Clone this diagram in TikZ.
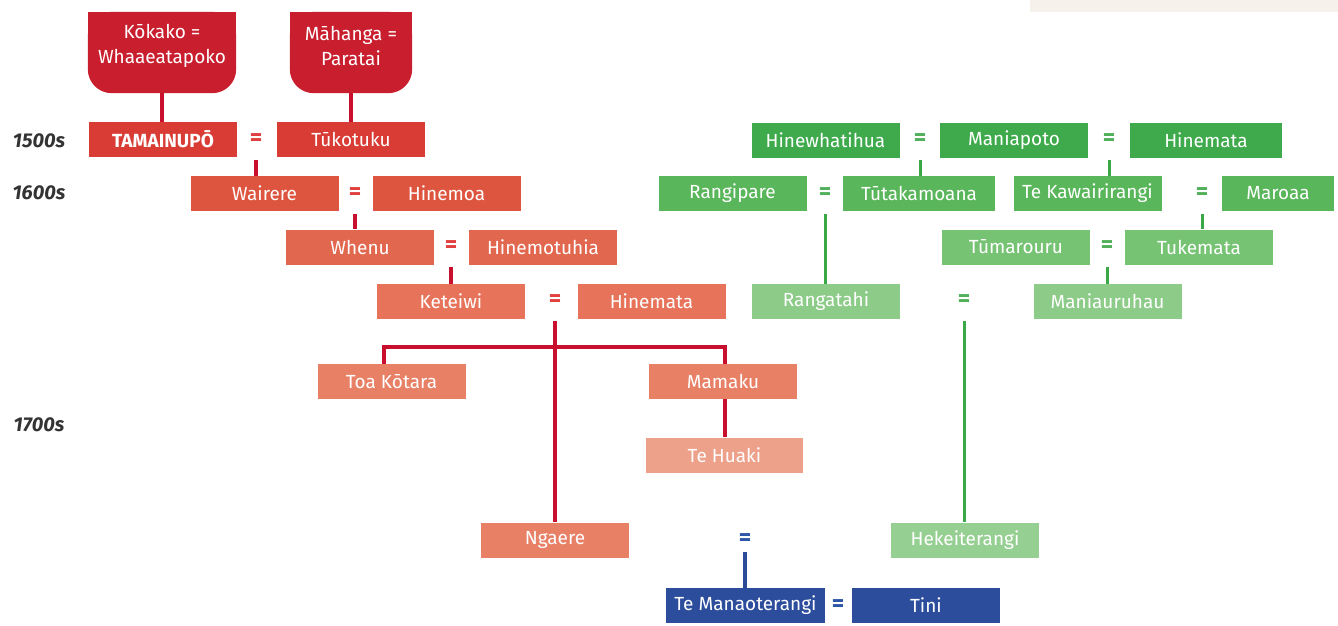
\documentclass[tikz,border=0pt]{standalone}
\usepackage{fontspec}
\setmainfont{Fira Sans}
\usetikzlibrary{backgrounds}
\definecolor{r0}{HTML}{C81E2D}
\definecolor{r1}{HTML}{D83C35}
\definecolor{r2}{HTML}{DE553F}
\definecolor{r3}{HTML}{E2674F}
\definecolor{r4}{HTML}{E6735A}
\definecolor{r5}{HTML}{E88066}
\definecolor{r6}{HTML}{EDA08A}
\definecolor{g1}{HTML}{3EAA4C}
\definecolor{g2}{HTML}{59B65A}
\definecolor{g3}{HTML}{76C374}
\definecolor{g4}{HTML}{8CCB88}
\definecolor{g5}{HTML}{96CF92}
\definecolor{bl}{HTML}{2C4C9C}
\definecolor{rl}{HTML}{C8102E}
\definecolor{gl}{HTML}{3AA846}
\definecolor{bll}{HTML}{2D4A98}
\definecolor{req}{HTML}{E0413F}
\definecolor{geq}{HTML}{52B05A}
\definecolor{beq}{HTML}{2F57A8}
\definecolor{yr}{HTML}{333333}
\definecolor{band}{HTML}{F6F1EA}
\tikzset{
  person/.style={rectangle, inner sep=0pt, minimum width=148pt, minimum height=35pt, text=white, font=\fontsize{19}{21}\selectfont},
  capbox/.style={rectangle, inner sep=0pt, minimum width=148pt, minimum height=94pt, text=white, align=center, font=\fontsize{19}{25}\selectfont},
  eqsign/.style={inner sep=0pt, minimum height=40pt, font=\fontsize{24}{24}\selectfont\bfseries},
  eqr/.style={eqsign, text=req},
  eqg/.style={eqsign, text=geq},
  eqb/.style={eqsign, text=beq},
  year/.style={text=yr, font=\fontsize{20}{22}\selectfont\bfseries\itshape},
  rline/.style={draw=rl, line width=3.5pt},
  gline/.style={draw=gl, line width=3pt},
  bline/.style={draw=bll, line width=3.5pt},
}
\begin{document}
\begin{tikzpicture}[x=1pt,y=-1pt]
\useasboundingbox (0,0) rectangle (1338,625);
\fill[band] (1030,0) rectangle (1338,12);
% years
\node[year] (y15) at (39,141) {1500s};
\node[year] (y16) at (39,193) {1600s};
\node[year] (y17) at (39,425) {1700s};
% caps
\node[capbox] (kok) at (162,46) {Kōkako =\\Whaaeatapoko};
\node[capbox, minimum width=122pt] (mah) at (351,46) {Māhanga =\\Paratai};
\begin{scope}[on background layer]
  \fill[r0, rounded corners=24pt] (kok.south west) rectangle ([yshift=-13pt]kok.north east);
  \fill[r0] ([yshift=-13pt]kok.north west) rectangle (kok.east);
  \fill[r0, rounded corners=24pt] (mah.south west) rectangle ([yshift=-13pt]mah.north east);
  \fill[r0] ([yshift=-13pt]mah.north west) rectangle (mah.east);
\end{scope}
% red line
\node[person, fill=r1, font=\fontsize{19}{21}\selectfont\bfseries] (tam) at (163,139.5) {TAMAINUPŌ};
\node[eqr] (e1) at (256,140) {=};
\node[person, fill=r1] (tuk) at (351,139.5) {Tūkotuku};
\node[person, fill=r2] (wai) at (264.5,193.5) {Wairere};
\node[eqr] (e2) at (355,194) {=};
\node[person, fill=r2] (hmo) at (446.5,193.5) {Hinemoa};
\node[person, fill=r3] (whe) at (360,247) {Whenu};
\node[eqr] (e3) at (451,247) {=};
\node[person, fill=r3] (hmt) at (543,247) {Hinemotuhia};
\node[person, fill=r4] (ket) at (451,301.5) {Keteiwi};
\node[eqr] (e4) at (555,301) {=};
\node[person, fill=r4] (hnr) at (651.5,301.5) {Hinemata};
\node[person, fill=r5] (toa) at (391.5,381.5) {Toa Kōtara};
\node[person, fill=r5] (mam) at (723,381.5) {Mamaku};
\node[person, fill=r6, minimum width=157pt] (thu) at (724.5,455) {Te Huaki};
\node[person, fill=r5] (nga) at (555,540) {Ngaere};
% blue
\node[eqb] (e5) at (745,540) {=};
\node[person, fill=bl, minimum width=159pt] (tma) at (745.5,605.5) {Te Manaoterangi};
\node[eqb] (e6) at (838,606) {=};
\node[person, fill=bl] (tin) at (926,605.5) {Tini};
% green
\node[person, fill=g1] (hwh) at (825.5,140) {Hinewhatihua};
\node[eqg] (e7) at (920,140) {=};
\node[person, fill=g1] (man) at (1014,140) {Maniapoto};
\node[eqg] (e8) at (1109,140) {=};
\node[person, fill=g1, minimum width=152pt] (hng) at (1206,140) {Hinemata};
\node[person, fill=g2] (rgp) at (732.5,193.5) {Rangipare};
\node[eqg] (e9) at (825,194) {=};
\node[person, fill=g2, minimum width=152pt] (tut) at (919,193.5) {Tūtakamoana};
\node[person, fill=g2] (tek) at (1087.5,193.5) {Te Kawairirangi};
\node[eqg] (e10) at (1202,194) {=};
\node[person, fill=g2, minimum width=112pt] (mar) at (1278,193.5) {Maroaa};
\node[person, fill=g3] (tum) at (1016,247) {Tūmarouru};
\node[eqg] (e11) at (1107,247) {=};
\node[person, fill=g3] (tkm) at (1199,247) {Tukemata};
\node[person, fill=g4] (rgt) at (826,301.5) {Rangatahi};
\node[eqg] (e12) at (964,301) {=};
\node[person, fill=g4] (mnu) at (1107.5,301.5) {Maniauruhau};
\node[person, fill=g5] (hek) at (965,540) {Hekeiterangi};
% connectors
\coordinate (barL) at (384,347);
\coordinate (barR) at (725,347);
\begin{scope}[on background layer]
\draw[rline] (kok.south) -- (kok.south |- tam.north);
\draw[rline] (mah.south) -- (mah.south |- tuk.north);
\draw[rline] (e1.south) -- (e1.south |- wai.north);
\draw[rline] (e2.south) -- (e2.south |- whe.north);
\draw[rline] (e3.south) -- (e3.south |- ket.north);
\draw[rline] (e4.south) -- (e4.south |- nga.north);
\draw[rline] (barL |- toa.north) -- (barL) -- (barR) -- (barR |- mam.north);
\draw[rline] (barR |- mam.south) -- (barR |- thu.north);
\draw[bline] ([yshift=8pt]e5.south) -- (e5.south |- tma.north);
\draw[gline] (e7.south) -- (e7.south |- tut.north);
\draw[gline] (e8.south) -- (e8.south |- tek.north);
\draw[gline] (e9.south) -- (e9.south |- rgt.north);
\draw[gline] (e10.south) -- (e10.south |- tkm.north);
\draw[gline] (e11.south) -- (e11.south |- mnu.north);
\draw[gline] (e12.south) -- (e12.south |- hek.north);
\end{scope}
\end{tikzpicture}
\end{document}
